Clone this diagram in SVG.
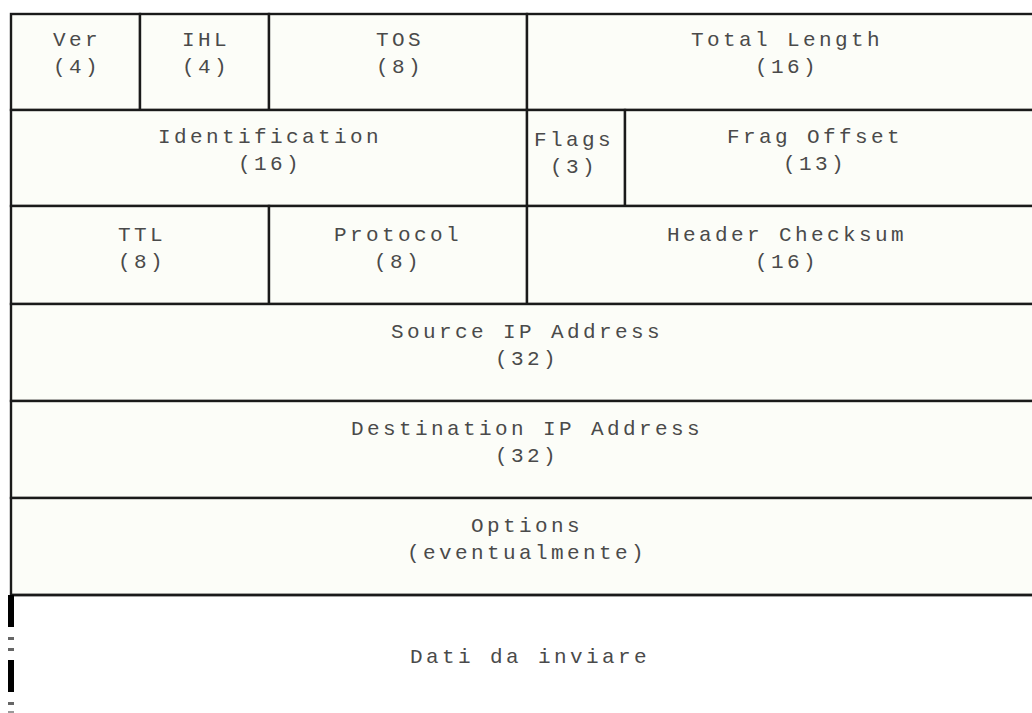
<svg xmlns="http://www.w3.org/2000/svg" width="1032" height="713" viewBox="0 0 1032 713">
<style>
.cell{fill:#fcfdf8;stroke:#1a1a1a;stroke-width:2.4}
.t{font-family:"Liberation Mono","Courier New",monospace;font-size:21px;letter-spacing:3.4px;fill:#4a4a4a;text-anchor:middle}
</style>
<rect x="0" y="0" width="1032" height="713" fill="#ffffff"/>
<g id="ver"><rect class="cell" x="11" y="14" width="129" height="96"/><text class="t" x="77" y="46">Ver</text><text class="t" x="77" y="73">(4)</text></g>
<g id="ihl"><rect class="cell" x="140" y="14" width="129" height="96"/><text class="t" x="206" y="46">IHL</text><text class="t" x="206" y="73">(4)</text></g>
<g id="tos"><rect class="cell" x="269" y="14" width="258" height="96"/><text class="t" x="400" y="46">TOS</text><text class="t" x="400" y="73">(8)</text></g>
<g id="total-length"><rect class="cell" x="527" y="14" width="520" height="96"/><text class="t" x="787" y="46">Total Length</text><text class="t" x="787" y="73">(16)</text></g>
<g id="identification"><rect class="cell" x="11" y="110" width="516" height="96"/><text class="t" x="270" y="143">Identification</text><text class="t" x="270" y="170">(16)</text></g>
<g id="flags"><rect class="cell" x="527" y="110" width="98" height="96"/><text class="t" x="574" y="146">Flags</text><text class="t" x="574" y="173">(3)</text></g>
<g id="frag-offset"><rect class="cell" x="625" y="110" width="422" height="96"/><text class="t" x="815" y="143">Frag Offset</text><text class="t" x="815" y="170">(13)</text></g>
<g id="ttl"><rect class="cell" x="11" y="206" width="258" height="98"/><text class="t" x="142" y="241">TTL</text><text class="t" x="142" y="268">(8)</text></g>
<g id="protocol"><rect class="cell" x="269" y="206" width="258" height="98"/><text class="t" x="398" y="241">Protocol</text><text class="t" x="398" y="268">(8)</text></g>
<g id="header-checksum"><rect class="cell" x="527" y="206" width="520" height="98"/><text class="t" x="787" y="241">Header Checksum</text><text class="t" x="787" y="268">(16)</text></g>
<g id="source-ip"><rect class="cell" x="11" y="304" width="1036" height="97"/><text class="t" x="527" y="338">Source IP Address</text><text class="t" x="527" y="365">(32)</text></g>
<g id="dest-ip"><rect class="cell" x="11" y="401" width="1036" height="97"/><text class="t" x="527" y="435">Destination IP Address</text><text class="t" x="527" y="462">(32)</text></g>
<g id="options"><rect class="cell" x="11" y="498" width="1036" height="97"/><text class="t" x="527" y="532">Options</text><text class="t" x="527" y="559">(eventualmente)</text></g>
<g id="dati">
<line x1="11" y1="595" x2="1040" y2="595" stroke="#1a1a1a" stroke-width="2.4"/>
<rect x="8" y="595" width="6" height="32" fill="#000"/>
<rect x="8" y="637" width="6" height="3" fill="#666"/>
<rect x="8" y="648" width="6" height="3" fill="#666"/>
<rect x="8" y="660" width="6" height="32" fill="#000"/>
<rect x="8" y="702" width="6" height="3" fill="#666"/>
<rect x="8" y="711" width="6" height="2" fill="#999"/>
<text class="t" x="530" y="663">Dati da inviare</text>
</g>
</svg>
